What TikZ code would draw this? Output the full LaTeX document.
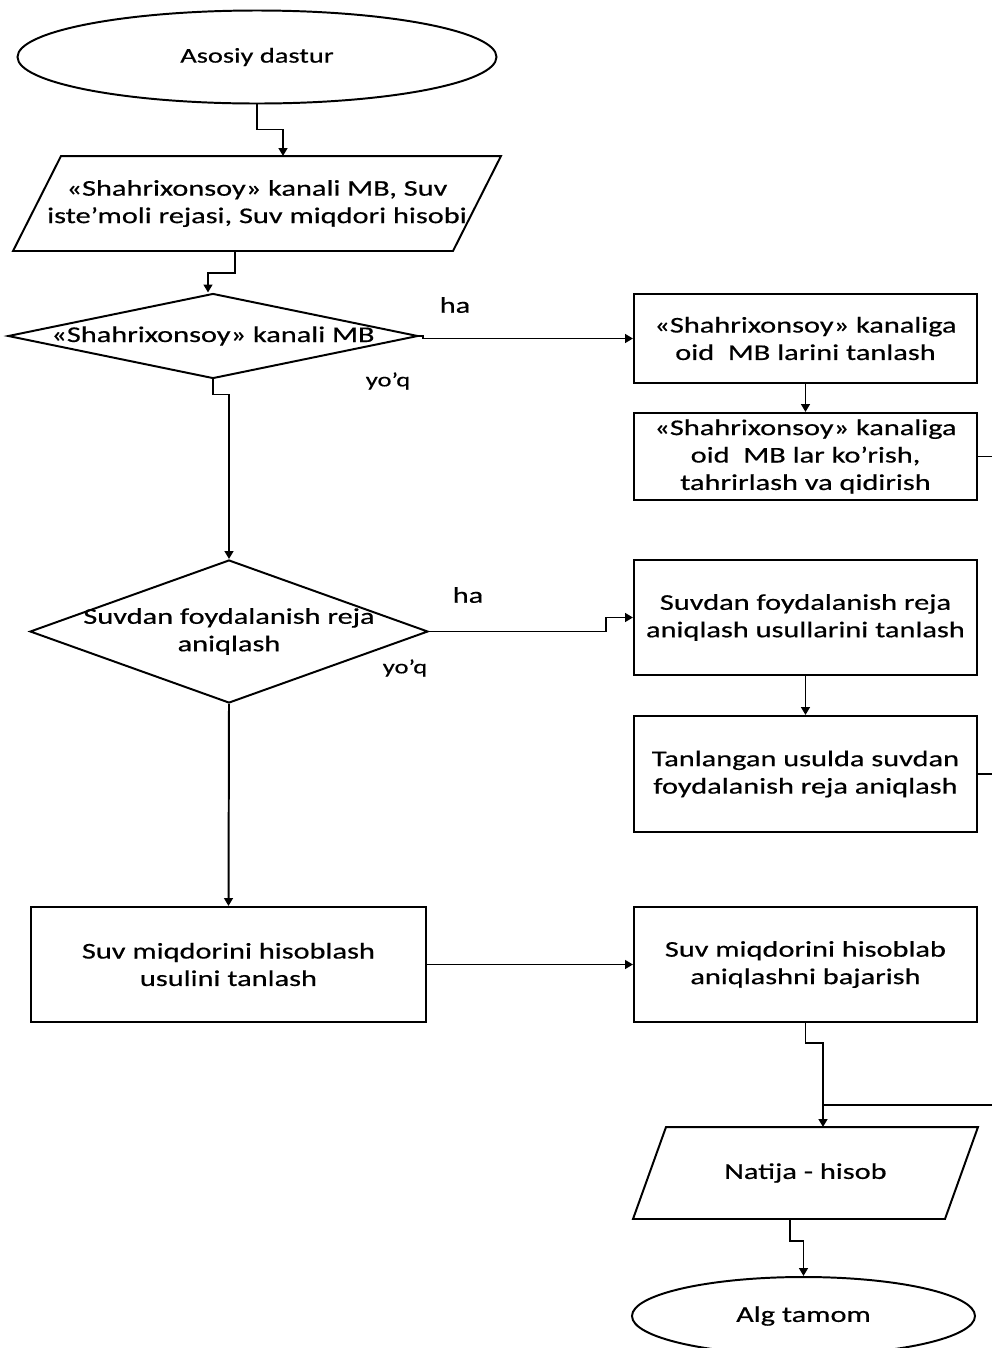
\documentclass[tikz,border=0pt]{standalone}
\usepackage{fontspec}
\setmainfont{Carlito}[FakeStretch=1.35,FakeBold=0.5]
\usetikzlibrary{shapes.geometric,arrows.meta}

\begin{document}
\begin{tikzpicture}[x=0.25mm,y=-0.25mm,line width=1.4pt,
  every node/.style={font=\fontsize{16}{19.5}\selectfont},
  blk/.style={draw,align=center,minimum width=85.75mm},
  term/.style={draw,ellipse,inner sep=0pt},
  io/.style={align=center,inner sep=0pt},
  dec/.style={draw,diamond,inner sep=0pt},
  arr/.style={-{Triangle[length=2mm,width=2.2mm]}}]
\useasboundingbox (0,0) rectangle (992,1348);
\node[term,minimum width=119.75mm,minimum height=23.25mm] (start) at (257,57) {\fontsize{15}{18}\selectfont Asosiy dastur};
\node[io,minimum width=121.5mm,minimum height=23.25mm] (inp) at (257,203.5) {«Shahrixonsoy» kanali MB, Suv\\iste’moli rejasi, Suv miqdori hisobi};
\draw ([xshift=12mm]inp.north west) -- (inp.north east) -- ([xshift=-12mm]inp.south east) -- (inp.south west) -- cycle;
\node[dec,minimum width=102.5mm,minimum height=21.25mm,label={center:«Shahrixonsoy» kanali MB}] (q1) at (213,336) {};
\node[blk,minimum height=22.25mm] (mbsel) at (805.5,338.5) {«Shahrixonsoy» kanaliga\\oid\ \ MB larini tanlash};
\node[blk,minimum height=21.75mm] (mbedit) at (805.5,456.5) {«Shahrixonsoy» kanaliga\\oid\ \ MB lar ko’rish,\\tahrirlash va qidirish};
\node[dec,minimum width=99.5mm,minimum height=35.75mm,label={[align=center]center:Suvdan foydalanish reja\\aniqlash}] (q2) at (229,631.5) {};
\node[blk,minimum height=28.75mm] (plsel) at (805.5,617.5) {Suvdan foydalanish reja\\aniqlash usullarini tanlash};
\node[blk,minimum height=29mm] (plrun) at (805.5,774) {Tanlangan usulda suvdan\\foydalanish reja aniqlash};
\node[blk,minimum width=98.75mm,minimum height=28.75mm] (qsel) at (228.5,964.5) {Suv miqdorini hisoblash\\usulini tanlash};
\node[blk,minimum height=28.75mm] (qrun) at (805.5,964.5) {Suv miqdorini hisoblab\\aniqlashni bajarish};
\node[io,minimum width=85.75mm,minimum height=22.5mm] (res) at (805.5,1173) {Natija - hisob};
\draw ([xshift=8.25mm]res.north west) -- (res.north east) -- ([xshift=-8.25mm]res.south east) -- (res.south west) -- cycle;
\node[term,minimum width=85.75mm,minimum height=19.5mm] (stop) at (803.5,1316) {Alg tamom};
\node (ha1) at (455,305) {ha};
\node (yoq1) at (388,381) {\fontsize{14}{16}\selectfont yo'q};
\node (ha2) at (468,595) {ha};
\node (yoq2) at (405,668) {\fontsize{14}{16}\selectfont yo'q};
\coordinate (bus1) at (992,456.5);
\coordinate (bus2) at (992,774);
\coordinate (bus3) at (992,1105);
\coordinate (join) at (823,1105);
\draw[arr] (start.south) -- ++(0,25) -| ([xshift=6.5mm]inp.north);
\draw[arr] ([xshift=-5.5mm]inp.south) -- ++(0,22) -| ([xshift=-1.25mm]q1.north);
\draw[arr] (q1.east) -- ++(4,0) |- (mbsel.west);
\draw[arr] (mbsel) -- (mbedit);
\draw (mbedit.east) -- (bus1);
\draw[arr] (q1.south) -- ++(0,15) -| (q2.north);
\draw[arr] (q2.east) -- ++(177,0) |- (plsel.west);
\draw[arr] (plsel) -- (plrun);
\draw (plrun.east) -- (bus2);
\draw[arr] (q2.south) -- (qsel.north);
\draw[arr] (qsel) -- (qrun);
\draw[arr] (qrun.south) -- ++(0,20) -| ([xshift=4.375mm]res.north);
\draw (bus3) -- (join);
\draw[arr] ([xshift=-3.9mm]res.south) -- ++(0,22) -| (stop.north);
\end{tikzpicture}
\end{document}
